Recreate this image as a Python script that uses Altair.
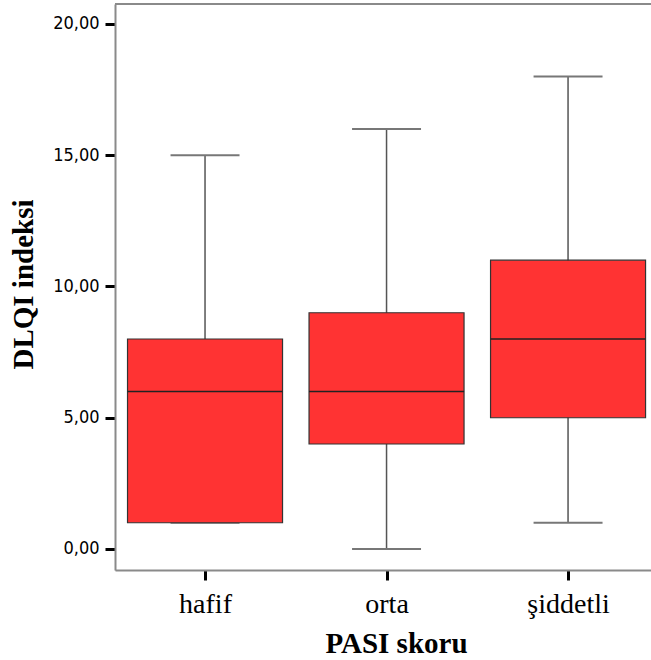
import altair as alt
import pandas as pd

categories = ["hafif", "orta", "şiddetli"]
positions = [0, 1, 2]
whisker_low = [1, 0, 1]
q1 = [1, 4, 5]
median = [6, 6, 8]
q3 = [8, 9, 11]
whisker_high = [15, 16, 18]
y_ticks = [0, 5, 10, 15, 20]

df = pd.DataFrame({
    "cat": categories,
    "pos": positions,
    "lo": whisker_low,
    "q1": q1,
    "med": median,
    "q3": q3,
    "hi": whisker_high,
})

xscale = alt.Scale(domain=[-0.496, 2.457], nice=False, zero=False)
yscale = alt.Scale(domain=[-0.8, 20.76], nice=False, zero=False)

label_expr = "datum.value == 0 ? 'hafif' : datum.value == 1 ? 'orta' : 'şiddetli'"

x_axis = alt.Axis(
    values=positions, labelExpr=label_expr, grid=False,
    domainColor="#8a8a8a", domainWidth=2,
    tickColor="#000000", tickWidth=3, tickSize=10,
    labelFont="Liberation Serif", labelFontSize=28, labelColor="#000000",
    labelPadding=10, labelAngle=0,
    title="PASI skoru", titleFont="Liberation Serif", titleFontSize=29,
    titleFontWeight="bold", titleColor="#000000",
    titleX=281, titleY=82, titleAlign="center", titleBaseline="alphabetic",
)
y_axis = alt.Axis(
    values=y_ticks, grid=False,
    labelExpr="replace(format(datum.value, '.2f'), '.', ',')",
    domainColor="#8a8a8a", domainWidth=2,
    tickColor="#000000", tickWidth=3, tickSize=10,
    labelFont="Liberation Sans Narrow, DejaVu Sans Condensed, sans-serif",
    labelFontSize=18, labelColor="#000000",
    labelPadding=6,
    title="DLQI indeksi", titleFont="Liberation Serif", titleFontSize=29,
    titleFontWeight="bold", titleColor="#000000", titleAngle=270,
    titleX=-92, titleY=280, titleAlign="center", titleBaseline="middle",
)

base = alt.Chart(df).transform_calculate(
    bl="datum.pos - 0.427", br="datum.pos + 0.427",
    cl="datum.pos - 0.19", cr="datum.pos + 0.19",
)

whisker = base.mark_rule(color="#555555", strokeWidth=1.5).encode(
    x=alt.X("pos:Q", scale=xscale, axis=x_axis),
    y=alt.Y("lo:Q", scale=yscale, axis=y_axis),
    y2="hi:Q",
)
cap_hi = base.mark_rule(color="#777777", strokeWidth=2).encode(
    x=alt.X("cl:Q", scale=xscale), x2="cr:Q",
    y=alt.Y("hi:Q", scale=yscale),
)
cap_lo = base.mark_rule(color="#777777", strokeWidth=2).encode(
    x=alt.X("cl:Q", scale=xscale), x2="cr:Q",
    y=alt.Y("lo:Q", scale=yscale),
)
box = base.mark_rect(fill="#ff3333", stroke="#333333", strokeWidth=1.2).encode(
    x=alt.X("bl:Q", scale=xscale), x2="br:Q",
    y=alt.Y("q1:Q", scale=yscale), y2="q3:Q",
)
med = base.mark_rule(color="#222222", strokeWidth=1.6).encode(
    x=alt.X("bl:Q", scale=xscale), x2="br:Q",
    y=alt.Y("med:Q", scale=yscale),
)
top_frame = alt.Chart(df).mark_rule(color="#8a8a8a", strokeWidth=2).encode(
    x=alt.value(0), x2=alt.value(536), y=alt.value(0),
)

chart = alt.layer(whisker, cap_hi, cap_lo, box, med, top_frame).properties(
    width=536, height=566,
    autosize=alt.AutoSizeParams(type="none"),
    padding={"left": 115, "top": 4, "right": 0, "bottom": 90},
).configure_view(stroke=None).configure(background="#ffffff")

chart.save("out.html", embed_options={"renderer": "svg", "actions": False})
